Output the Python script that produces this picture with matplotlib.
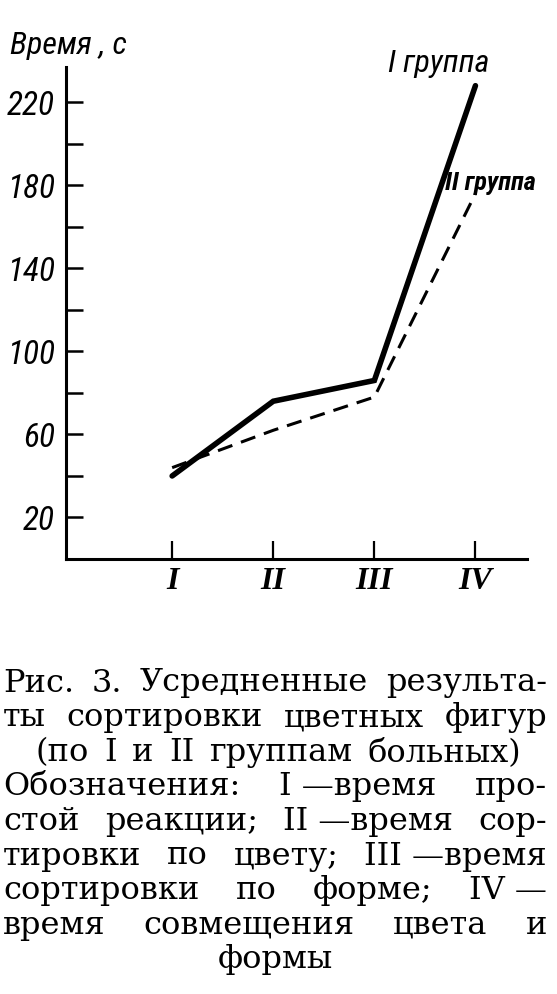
import matplotlib
matplotlib.use("Agg")
import matplotlib.pyplot as plt
from matplotlib import font_manager as fm
from matplotlib.font_manager import FontProperties

# ---- data ----
categories = ["I", "II", "III", "IV"]
group1 = [40, 76, 86, 228]
group2 = [44, 62, 78, 176]
group1_label = "I группа"
group2_label = "II группа"
y_label = "Время , с"
y_ticks = [20, 40, 60, 80, 100, 120, 140, 160, 180, 200, 220]
y_ticklabels = ["20", "", "60", "", "100", "", "140", "", "180", "", "220"]
caption_lines = [
    "Рис. 3. Усредненные результа-",
    "ты сортировки цветных фигур",
    "(по I и II группам больных)",
    "Обозначения: I\u00a0—время про-",
    "стой реакции; II\u00a0—время сор-",
    "тировки по цвету; III\u00a0—время",
    "сортировки по форме; IV\u00a0—",
    "время совмещения цвета и",
    "формы",
]


def pick_family(cands):
    for c in cands:
        try:
            fm.findfont(FontProperties(family=c), fallback_to_default=False)
            return c
        except Exception:
            continue
    return "DejaVu Sans"


narrow = pick_family(["Roboto Condensed", "Liberation Sans Narrow", "DejaVu Sans Condensed", "Liberation Sans"])
serif = pick_family(["Liberation Serif", "DejaVu Serif"])
cap_family = pick_family(["DejaVu Serif", "Liberation Serif"])

W, H = 557, 994
fig = plt.figure(figsize=(W / 100, H / 100), dpi=100)
fig.patch.set_facecolor("white")

ax_left, ax_right, ax_bottom, ax_top = 66, 527, 559, 67
ax = fig.add_axes([ax_left / W, 1 - ax_bottom / H, (ax_right - ax_left) / W, (ax_bottom - ax_top) / H])
ax.set_facecolor("white")

x = list(range(1, len(categories) + 1))
ax.plot(x, group1, color="black", lw=4.0, solid_capstyle="round", solid_joinstyle="miter")
ax.plot(x, group2, color="black", lw=2.2, linestyle=(0, (5, 3)), dash_capstyle="butt")

ax.set_xlim(-0.05, 4.51)
ax.set_ylim(0, 237)
for s in ["top", "right"]:
    ax.spines[s].set_visible(False)
ax.spines["left"].set_linewidth(2.2)
ax.spines["bottom"].set_linewidth(2.2)

ax.set_yticks(y_ticks)
ax.set_yticklabels(y_ticklabels)
ax.tick_params(axis="y", direction="in", length=12, width=1.8, pad=8)
ax.set_xticks(x)
ax.set_xticklabels(categories)
ax.tick_params(axis="x", direction="in", length=13, width=1.6, pad=6)

tick_fp = FontProperties(family=narrow, style="italic", size=24)
for lab in ax.get_yticklabels():
    lab.set_fontproperties(tick_fp)
xt_fp = FontProperties(family=serif, style="italic", weight="bold", size=23)
for lab in ax.get_xticklabels():
    lab.set_fontproperties(xt_fp)

fig.text(10 / W, 1 - 46 / H, y_label, fontproperties=FontProperties(family=narrow, style="italic", size=23),
         ha="left", va="center")
ax.text(3.14, 238.5, group1_label, fontproperties=FontProperties(family=narrow, style="italic", size=23),
        ha="left", va="center", clip_on=False)
ax.text(3.70, 181, group2_label, fontproperties=FontProperties(family=narrow, style="italic", weight="bold", size=19),
        ha="left", va="center", clip_on=False)

# ---- caption, justified ----
cap_fp = FontProperties(family=cap_family, size=23)
fig.canvas.draw()
renderer = fig.canvas.get_renderer()
x0, x1 = 3, 547
y_first, dy = 683, 34.6
for i, line in enumerate(caption_lines):
    yc = 1 - (y_first + i * dy) / H
    if i == len(caption_lines) - 1:
        fig.text(0.5 * (x0 + x1) / W, yc, line, fontproperties=cap_fp, ha="center", va="center")
        continue
    lx0, lx1 = (36, 521) if i == 2 else (x0, x1)
    words = line.split(" ")
    widths = []
    for w_ in words:
        t = fig.text(0, 0, w_, fontproperties=cap_fp)
        widths.append(t.get_window_extent(renderer).width)
        t.remove()
    gap = ((lx1 - lx0) - sum(widths)) / max(len(words) - 1, 1)
    cx = lx0
    for w_, wd in zip(words, widths):
        fig.text(cx / W, yc, w_, fontproperties=cap_fp, ha="left", va="center")
        cx += wd + gap

fig.savefig("out.png", dpi=100, facecolor="white")
